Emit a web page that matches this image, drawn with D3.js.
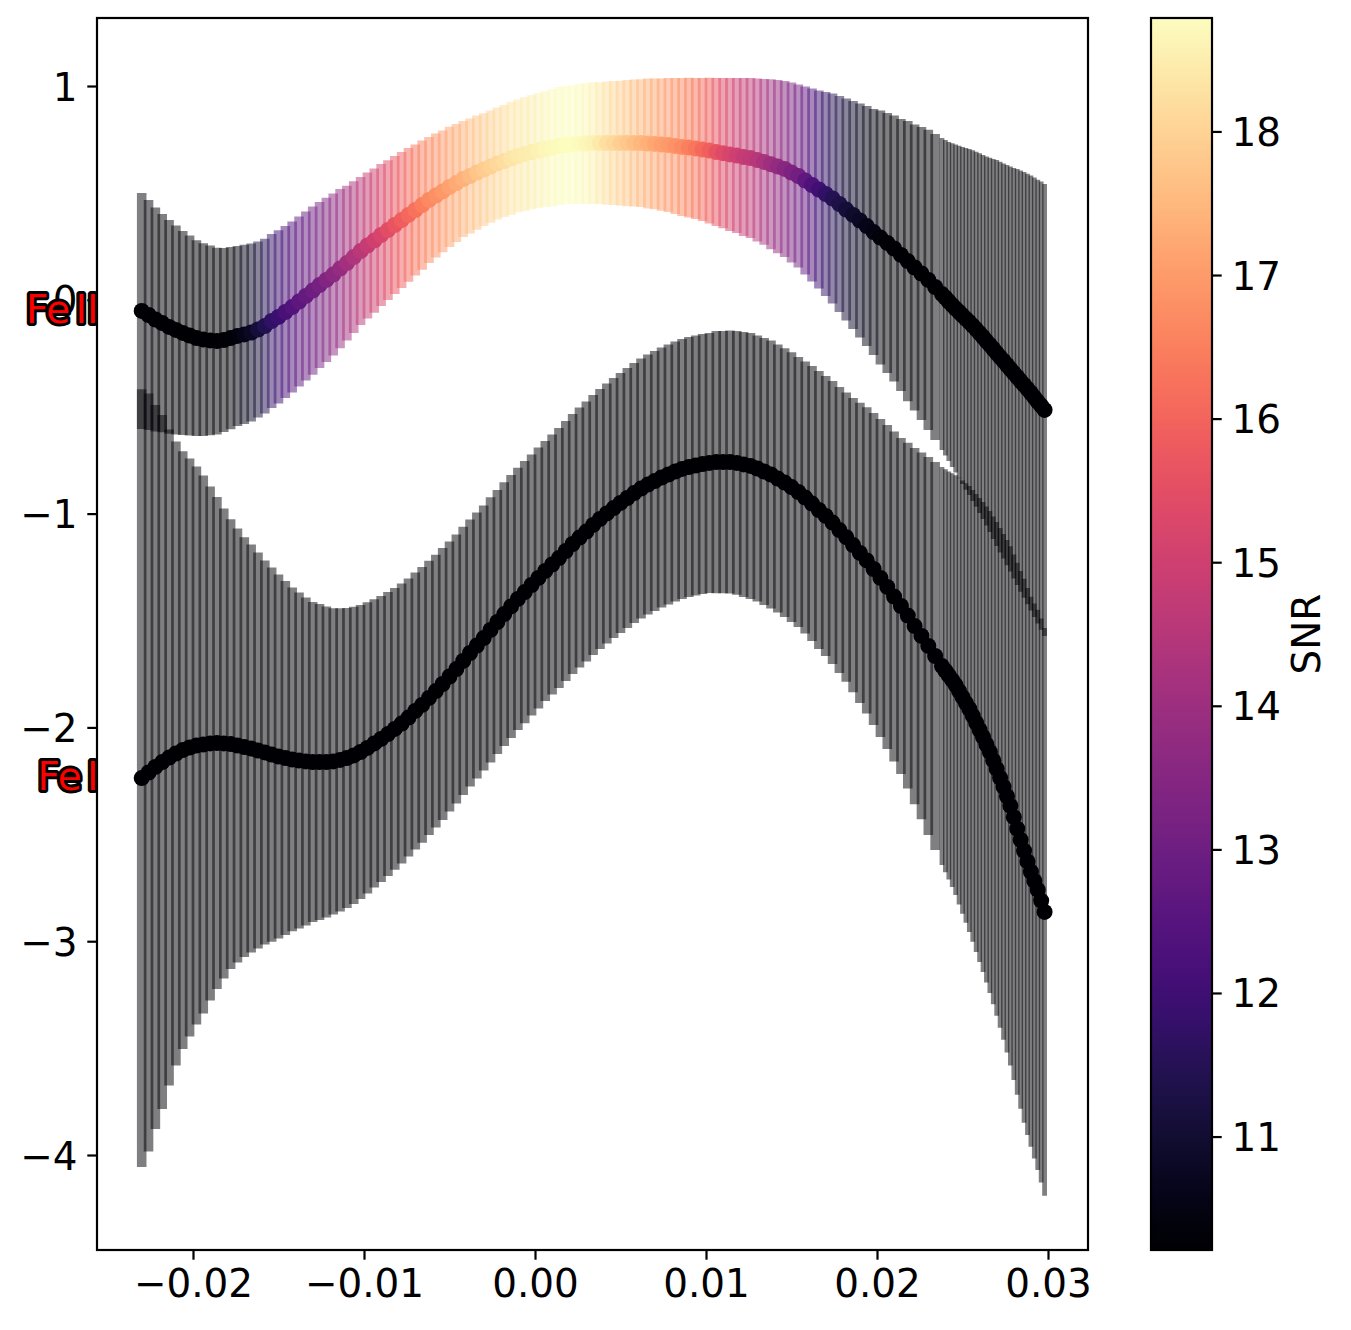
<!DOCTYPE html>
<html><head><meta charset="utf-8">
<script src="https://cdn.jsdelivr.net/npm/d3@7"></script>
<style>body{margin:0;background:#fff} text{font-family:"DejaVu Sans",sans-serif}</style>
</head><body>
<svg id="chart" width="1351" height="1330"></svg>
<script>
// ---------------- data ----------------
const xVals = [
-0.0230,-0.0226,-0.0222,-0.0218,-0.0214,-0.0210,-0.0206,-0.0202,-0.0198,-0.0194,
-0.0190,-0.0186,-0.0182,-0.0178,-0.0174,-0.0170,-0.0166,-0.0162,-0.0158,-0.0154,
-0.0150,-0.0146,-0.0142,-0.0138,-0.0134,-0.0130,-0.0126,-0.0122,-0.0118,-0.0114,
-0.0110,-0.0106,-0.0102,-0.0098,-0.0094,-0.0090,-0.0086,-0.0082,-0.0078,-0.0074,
-0.0070,-0.0066,-0.0062,-0.0058,-0.0054,-0.0050,-0.0046,-0.0042,-0.0038,-0.0034,
-0.0030,-0.0026,-0.0022,-0.0018,-0.0014,-0.0010,-0.0006,-0.0002,0.0002,0.0006,
0.0010,0.0014,0.0018,0.0022,0.0026,0.0030,0.0034,0.0038,0.0042,0.0046,
0.0050,0.0054,0.0058,0.0062,0.0066,0.0070,0.0074,0.0078,0.0082,0.0086,
0.0090,0.0094,0.0098,0.0102,0.0106,0.0110,0.0114,0.0118,0.0122,0.0126,
0.0130,0.0134,0.0138,0.0142,0.0146,0.0150,0.0154,0.0158,0.0162,0.0166,
0.0170,0.0174,0.0178,0.0182,0.0186,0.0190,0.0194,0.0198,0.0202,0.0206,
0.0210,0.0214,0.0218,0.0222,0.0226,0.0230,0.0234,0.0238,0.0240,0.0242,
0.0244,0.0246,0.0248,0.0250,0.0252,0.0254,0.0256,0.0258,0.0260,0.0262,
0.0264,0.0266,0.0268,0.0270,0.0272,0.0274,0.0276,0.0278,0.0280,0.0282,
0.0284,0.0286,0.0288,0.0290,0.0292,0.0294,0.0296,0.0298];

const feIIVal = [
-0.052,-0.071,-0.092,-0.109,-0.127,-0.141,-0.155,-0.167,-0.179,-0.186,
-0.190,-0.193,-0.188,-0.179,-0.169,-0.162,-0.153,-0.139,-0.123,-0.099,
-0.080,-0.057,-0.034,-0.008,0.018,0.043,0.069,0.093,0.118,0.146,
0.172,0.200,0.228,0.254,0.277,0.303,0.326,0.350,0.373,0.397,
0.420,0.443,0.467,0.488,0.507,0.528,0.546,0.565,0.579,0.595,
0.609,0.623,0.638,0.649,0.661,0.673,0.682,0.691,0.698,0.705,
0.712,0.719,0.724,0.726,0.729,0.731,0.733,0.733,0.733,0.733,
0.733,0.733,0.733,0.733,0.731,0.729,0.726,0.724,0.719,0.715,
0.712,0.708,0.703,0.698,0.691,0.686,0.680,0.675,0.668,0.663,
0.654,0.645,0.634,0.623,0.612,0.595,0.579,0.558,0.537,0.516,
0.495,0.474,0.448,0.422,0.397,0.371,0.345,0.317,0.291,0.266,
0.240,0.210,0.181,0.151,0.123,0.093,0.060,0.027,0.010,-0.008,
-0.025,-0.041,-0.057,-0.073,-0.089,-0.104,-0.121,-0.138,-0.156,-0.174,
-0.193,-0.211,-0.230,-0.249,-0.268,-0.286,-0.305,-0.324,-0.343,-0.361,
-0.380,-0.398,-0.417,-0.436,-0.456,-0.476,-0.495,-0.515];

const feIIErr = [
0.552,0.538,0.524,0.510,0.500,0.489,0.477,0.468,0.458,0.451,
0.444,0.437,0.430,0.426,0.421,0.419,0.416,0.412,0.409,0.407,
0.405,0.402,0.400,0.398,0.395,0.393,0.388,0.384,0.379,0.372,
0.362,0.355,0.346,0.341,0.337,0.332,0.327,0.323,0.318,0.313,
0.306,0.302,0.295,0.290,0.285,0.281,0.276,0.271,0.269,0.267,
0.264,0.262,0.262,0.262,0.264,0.264,0.267,0.267,0.269,0.271,
0.274,0.276,0.276,0.278,0.281,0.283,0.285,0.285,0.288,0.290,
0.292,0.295,0.297,0.299,0.304,0.306,0.309,0.313,0.318,0.323,
0.327,0.330,0.334,0.341,0.346,0.351,0.358,0.362,0.369,0.374,
0.381,0.388,0.398,0.405,0.412,0.421,0.428,0.440,0.451,0.463,
0.477,0.491,0.505,0.519,0.533,0.547,0.561,0.575,0.594,0.608,
0.622,0.636,0.655,0.669,0.685,0.702,0.716,0.730,0.738,0.746,
0.757,0.767,0.778,0.788,0.799,0.809,0.820,0.830,0.841,0.851,
0.863,0.875,0.889,0.903,0.914,0.924,0.936,0.947,0.960,0.973,
0.985,0.996,1.007,1.017,1.028,1.038,1.048,1.057];

const feIISnr = [
10.25,10.25,10.24,10.23,10.22,10.22,10.21,10.21,10.21,10.22,
10.23,10.25,10.28,10.32,10.42,10.58,10.75,11.10,11.45,11.72,
11.95,12.20,12.42,12.63,12.82,13.00,13.18,13.40,13.60,13.85,
14.10,14.35,14.60,14.82,15.02,15.22,15.44,15.64,15.85,16.05,
16.26,16.46,16.67,16.80,16.93,17.10,17.25,17.40,17.56,17.72,
17.86,17.98,18.10,18.22,18.34,18.42,18.47,18.51,18.56,18.64,
18.70,18.75,18.79,18.77,18.74,18.68,18.56,18.40,18.25,18.10,
17.95,17.80,17.65,17.50,17.35,17.20,17.07,16.95,16.83,16.71,
16.50,16.32,16.10,15.88,15.63,15.40,15.20,15.00,14.83,14.67,
14.50,14.26,14.02,13.78,13.53,13.30,13.06,12.70,12.35,12.04,
11.75,11.50,11.30,11.10,10.90,10.75,10.60,10.48,10.38,10.30,
10.25,10.22,10.22,10.21,10.21,10.21,10.21,10.21,10.21,10.21,
10.21,10.21,10.21,10.21,10.21,10.21,10.21,10.21,10.21,10.21,
10.21,10.21,10.21,10.21,10.21,10.21,10.21,10.21,10.21,10.21,
10.21,10.21,10.21,10.21,10.21,10.21,10.21,10.21];

const feIVal = [
-2.237,-2.211,-2.185,-2.162,-2.141,-2.122,-2.106,-2.094,-2.085,-2.080,
-2.075,-2.073,-2.075,-2.078,-2.085,-2.092,-2.099,-2.108,-2.117,-2.127,
-2.136,-2.143,-2.150,-2.155,-2.159,-2.162,-2.162,-2.162,-2.159,-2.152,
-2.143,-2.131,-2.115,-2.096,-2.075,-2.054,-2.031,-2.007,-1.982,-1.954,
-1.923,-1.895,-1.862,-1.830,-1.797,-1.762,-1.727,-1.689,-1.652,-1.617,
-1.582,-1.544,-1.507,-1.470,-1.434,-1.399,-1.367,-1.334,-1.301,-1.268,
-1.238,-1.208,-1.175,-1.142,-1.112,-1.084,-1.053,-1.025,-0.999,-0.974,
-0.950,-0.927,-0.904,-0.883,-0.864,-0.848,-0.831,-0.817,-0.803,-0.791,
-0.782,-0.775,-0.768,-0.763,-0.759,-0.759,-0.759,-0.763,-0.770,-0.777,
-0.789,-0.803,-0.817,-0.836,-0.855,-0.876,-0.899,-0.925,-0.953,-0.983,
-1.011,-1.042,-1.077,-1.110,-1.147,-1.184,-1.219,-1.259,-1.301,-1.343,
-1.388,-1.432,-1.477,-1.526,-1.572,-1.619,-1.666,-1.713,-1.735,-1.757,
-1.779,-1.802,-1.830,-1.858,-1.886,-1.914,-1.946,-1.979,-2.012,-2.045,
-2.080,-2.115,-2.154,-2.194,-2.236,-2.278,-2.322,-2.367,-2.420,-2.474,
-2.526,-2.577,-2.627,-2.675,-2.718,-2.760,-2.810,-2.863];

const feIErr = [
1.819,1.773,1.693,1.623,1.534,1.459,1.398,1.352,1.305,1.258,
1.202,1.151,1.099,1.052,1.015,0.982,0.954,0.926,0.898,0.875,
0.851,0.828,0.804,0.786,0.767,0.748,0.739,0.727,0.716,0.709,
0.702,0.695,0.688,0.681,0.674,0.669,0.664,0.659,0.655,0.650,
0.648,0.645,0.641,0.638,0.636,0.631,0.629,0.627,0.624,0.622,
0.620,0.620,0.617,0.617,0.615,0.613,0.613,0.610,0.610,0.608,
0.608,0.608,0.608,0.608,0.608,0.608,0.608,0.608,0.608,0.608,
0.608,0.608,0.608,0.608,0.608,0.608,0.608,0.608,0.608,0.608,
0.608,0.608,0.608,0.608,0.613,0.613,0.615,0.617,0.620,0.622,
0.622,0.624,0.627,0.627,0.629,0.631,0.631,0.636,0.643,0.650,
0.655,0.662,0.669,0.676,0.688,0.702,0.716,0.730,0.744,0.758,
0.772,0.786,0.809,0.833,0.858,0.884,0.907,0.931,0.943,0.954,
0.968,0.982,0.998,1.013,1.028,1.043,1.057,1.071,1.085,1.099,
1.113,1.127,1.141,1.155,1.169,1.183,1.199,1.214,1.229,1.244,
1.258,1.272,1.279,1.286,1.298,1.310,1.319,1.328];

const feISnr = [
10.21,10.21,10.21,10.21,10.21,10.21,10.21,10.21,10.21,10.21,
10.21,10.21,10.21,10.21,10.21,10.21,10.21,10.21,10.21,10.21,
10.21,10.21,10.21,10.21,10.21,10.21,10.21,10.21,10.21,10.21,
10.21,10.21,10.21,10.21,10.21,10.21,10.21,10.21,10.21,10.21,
10.21,10.21,10.21,10.21,10.21,10.21,10.21,10.21,10.21,10.21,
10.21,10.21,10.21,10.21,10.21,10.21,10.21,10.21,10.21,10.21,
10.21,10.21,10.21,10.21,10.21,10.21,10.21,10.21,10.21,10.21,
10.21,10.21,10.21,10.21,10.21,10.21,10.21,10.21,10.21,10.21,
10.21,10.21,10.21,10.21,10.21,10.21,10.21,10.21,10.21,10.21,
10.21,10.21,10.21,10.21,10.21,10.21,10.21,10.21,10.21,10.21,
10.21,10.21,10.21,10.21,10.21,10.21,10.21,10.21,10.21,10.21,
10.21,10.21,10.21,10.21,10.21,10.21,10.21,10.21,10.21,10.21,
10.21,10.21,10.21,10.21,10.21,10.21,10.21,10.21,10.21,10.21,
10.21,10.21,10.21,10.21,10.21,10.21,10.21,10.21,10.21,10.21,
10.21,10.21,10.21,10.21,10.21,10.21,10.21,10.21];

const seriesNames = ["Fe II", "Fe I"];
const xTicks = [-0.02, -0.01, 0.00, 0.01, 0.02, 0.03];
const yTicks = [-4, -3, -2, -1, 0, 1];
const cbTicks = [11, 12, 13, 14, 15, 16, 17, 18];
const snrDomain = [10.21, 18.79];
const cbLabel = "SNR";

// ---------------- layout ----------------
const FS = 38.9;
const plot = {l: 97, r: 1088, t: 18, b: 1250};
const cb = {l: 1151, r: 1212, t: 18, b: 1250};
const svg = d3.select("#chart");

const x = d3.scaleLinear().domain([-0.025614, 0.032339]).range([plot.l, plot.r]);
const y = d3.scaleLinear().domain([-4.4443, 1.3181]).range([plot.b, plot.t]);
const color = d3.scaleSequential(d3.interpolateMagma).domain(snrDomain);
const cy = d3.scaleLinear().domain(snrDomain).range([cb.b, cb.t]);

const series = [
  {name: seriesNames[0], val: feIIVal, err: feIIErr, snr: feIISnr},
  {name: seriesNames[1], val: feIVal, err: feIErr, snr: feISnr}
];

// bar width follows local sample spacing
const barW = xVals.map((d, i) => {
  const a = i > 0 ? x(d) - x(xVals[i - 1]) : Infinity;
  const b = i < xVals.length - 1 ? x(xVals[i + 1]) - x(d) : Infinity;
  return Math.min(a, b) * 1.4;
});

function styleAxis(g){
  g.select(".domain").remove();
  g.selectAll(".tick line").attr("stroke", "#000").attr("stroke-width", 2.2);
  g.selectAll(".tick text").attr("font-size", FS).attr("font-family", "DejaVu Sans").attr("fill", "#000");
}
svg.append("g").attr("transform", `translate(0,${plot.b})`)
  .call(d3.axisBottom(x).tickValues(xTicks).tickFormat(d3.format(".2f")).tickSize(9.7).tickPadding(9.7))
  .call(styleAxis);
svg.append("g").attr("transform", `translate(${plot.l},0)`)
  .call(d3.axisLeft(y).tickValues(yTicks).tickFormat(d3.format("d")).tickSize(9.7).tickPadding(9.7))
  .call(styleAxis)
  .selectAll(".tick text").attr("dy", "0.36em");

// series labels, sitting just left of the axes (partly behind the axes patch)
series.forEach(s => {
  const parts = s.name.split(" ");
  const t = svg.append("text")
    .attr("x", plot.l + 1.5).attr("y", y(s.val[0]) + 12)
    .attr("text-anchor", "end")
    .attr("font-size", FS)
    .attr("fill", "#ff0000").attr("stroke", "#000").attr("stroke-width", 6)
    .attr("stroke-linejoin", "round")
    .style("paint-order", "stroke");
  t.append("tspan").text(parts[0]);
  t.append("tspan").attr("dx", -7).text("\u00A0" + parts[1]);
});

// axes patch
svg.append("rect").attr("x", plot.l).attr("y", plot.t)
  .attr("width", plot.r - plot.l).attr("height", plot.b - plot.t).attr("fill", "#fff");

const clipId = "plotclip";
svg.append("clipPath").attr("id", clipId).append("rect")
  .attr("x", plot.l).attr("y", plot.t).attr("width", plot.r - plot.l).attr("height", plot.b - plot.t);
const pg = svg.append("g").attr("clip-path", `url(#${clipId})`);

series.forEach(s => {
  pg.append("g").selectAll("line").data(xVals).join("line")
    .attr("x1", (d) => x(d)).attr("x2", (d) => x(d))
    .attr("y1", (d, i) => y(s.val[i] - s.err[i]))
    .attr("y2", (d, i) => y(s.val[i] + s.err[i]))
    .attr("stroke", (d, i) => color(s.snr[i]))
    .attr("stroke-opacity", 0.5)
    .attr("stroke-width", (d, i) => barW[i]);
});
series.forEach(s => {
  pg.append("g").selectAll("circle").data(xVals).join("circle")
    .attr("cx", (d) => x(d))
    .attr("cy", (d, i) => y(s.val[i]))
    .attr("r", 8)
    .attr("fill", (d, i) => color(s.snr[i]));
});

// frame
svg.append("rect").attr("x", plot.l).attr("y", plot.t)
  .attr("width", plot.r - plot.l).attr("height", plot.b - plot.t)
  .attr("fill", "none").attr("stroke", "#000").attr("stroke-width", 2.2);

// colorbar
const defs = svg.append("defs");
const grad = defs.append("linearGradient").attr("id", "cbgrad")
  .attr("x1", 0).attr("y1", 1).attr("x2", 0).attr("y2", 0);
d3.range(0, 1.0001, 0.02).forEach(t => {
  grad.append("stop").attr("offset", t).attr("stop-color", d3.interpolateMagma(t));
});
svg.append("rect").attr("x", cb.l).attr("y", cb.t)
  .attr("width", cb.r - cb.l).attr("height", cb.b - cb.t)
  .attr("fill", "url(#cbgrad)");
svg.append("g").attr("transform", `translate(${cb.r},0)`)
  .call(d3.axisRight(cy).tickValues(cbTicks).tickFormat(d3.format("d")).tickSize(9.7).tickPadding(9.7))
  .call(styleAxis)
  .selectAll(".tick text").attr("dy", "0.36em");
svg.append("rect").attr("x", cb.l).attr("y", cb.t)
  .attr("width", cb.r - cb.l).attr("height", cb.b - cb.t)
  .attr("fill", "none").attr("stroke", "#000").attr("stroke-width", 2.2);
svg.append("text")
  .attr("transform", `translate(1320,${(cb.t + cb.b) / 2}) rotate(-90)`)
  .attr("text-anchor", "middle")
  .attr("font-size", FS).attr("fill", "#000")
  .text(cbLabel);
</script>
</body></html>
